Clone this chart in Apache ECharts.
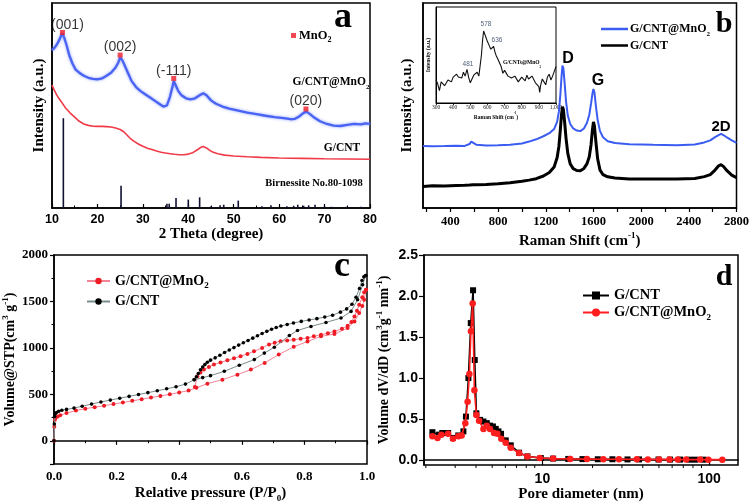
<!DOCTYPE html>
<html><head><meta charset="utf-8">
<script src="https://cdn.jsdelivr.net/npm/echarts@6/dist/echarts.min.js"></script>
<style>html,body{margin:0;padding:0;background:#fff}#c{width:752px;height:504px}</style>
</head><body><div id="c"></div><script>
// ---------- Panel a: XRD ----------
const aBlueX = [10,10.5,11,11.5,12,12.3,12.7,13.2,13.8,14.5,15.2,16,17,18,19,20,21,22,23,24,24.6,25,25.5,26,26.7,27.5,28.5,29.5,30.5,31.5,32.5,33.5,34.5,35.3,36,36.5,36.8,37.2,37.8,38.5,39.5,40.5,41.5,42.5,43.3,44,45,46,47.5,49,51,53,55,57,59,61,62.5,63.5,64.5,65.3,66,66.8,67.8,69,70.5,72,73.5,75,76.5,78,79,80];
const aBlueY = [77,78,79.5,81.5,84,85.2,83,79.5,74.5,70.5,67.5,66,64.5,63.5,63,62.8,63.2,64.5,66,68.5,71,73.5,72,69.5,66,62,59,57,55.5,54,52.5,51,49.5,50,54.5,59,62,60,57,55,53.5,53,53.5,55,56,55,52.5,51,49.5,48.5,47.5,46.5,45.8,45,44.3,43.8,43.3,43.5,44.8,46.3,47,45.8,44,42.3,41,40.2,40,40.5,41,40.8,41.3,41];
const aRedX = [10,10.5,11,11.5,12,13,14,15,16,17,18,19,20,21,22,23,24,25,25.8,26.5,27.2,28,29,30,31,32,33,34,35,36,37,38,39,40,41,42,42.7,43.3,44,44.8,45.5,46.5,48,50,53,56,60,65,70,75,80];
const aRedY = [60,57.5,55.3,53.5,52,48.8,46.3,44.3,42.3,41,40.3,39.9,39.8,39.8,39.7,39.5,39,38.3,37.2,35.6,34,32.6,31.2,30.1,29.2,28.5,27.8,27.2,26.8,26.5,26.2,26,26,26.3,27,28.4,29.5,30,29.3,28,27.2,26.5,25.8,25.4,25,24.7,24.4,24.2,24,23.9,23.8];
const aStickX = [12.5,25.2,35.3,35.8,37.3,40.0,42.5,45.0,47.0,47.8,51.0,56.2,58.2,61.7,63.2,64.1,65.4,66.5,67.9,70.0,71.5,74.8,78.0];
const aStickY = [43.8,10.9,2.1,2.1,4.9,4.1,5.2,0.8,1.3,1.6,3.6,0.8,1.3,0.8,1.1,1.6,1.1,1.3,1.6,0.8,0.6,0.6,0.6];
const aPeakX = [12.3,25.0,36.8,65.9];
const aPeakY = [85.6,74.6,63.2,48.3];
const aPeakLabels = ['(001)','(002)','(-111)','(020)'];

// ---------- Panel b: Raman ----------
const bX = [170,250,350,450,520,560,575,590,620,700,800,900,1000,1060,1120,1180,1230,1270,1295,1310,1322,1332,1340,1348,1358,1370,1385,1405,1430,1460,1490,1520,1545,1565,1580,1592,1600,1608,1620,1635,1655,1680,1720,1780,1900,2100,2300,2450,2530,2580,2620,2650,2670,2690,2720,2760,2800];
const bBlueY = [30.3,30.1,30.2,30.4,30.3,31.2,32.4,31.5,30.8,30.5,30.6,30.8,31.5,32.4,33.5,35,36.5,38.5,42,47,55,64,69.5,68,61,52,45,41,38.8,37.8,37.5,38.8,41.5,45.5,51,56,58,56.5,50,43,37.5,34.5,32.6,31.7,31.1,30.8,30.6,31,32,33,34.6,35.6,36.2,35.6,34.4,33,31.8];
const bBlackY = [10.5,10.8,10.7,11,11.1,11.2,11.2,11.3,11.4,11.5,11.8,12.3,13,13.6,14.3,15.6,17.3,20,24.5,30,38,45.5,49.4,48,42,34,26.5,21.5,19.2,18.3,18.2,19.3,21.5,25,31,38.5,42,40,32.5,24,18.5,16.3,15.2,14.6,14.2,14.1,14.1,14.4,15.3,16.3,18.5,20.6,21.1,20.3,18.2,16,14.8];
const bTickVals = [200,400,600,800,1000,1200,1400,1600,1800,2000,2200,2400,2600,2800];
const bLabelVals = [400,800,1200,1600,2000,2400,2800];
// inset
const iX = [300,310,320,330,340,350,360,370,380,390,400,410,420,430,440,450,460,470,481,490,500,510,520,530,540,550,558,565,572,578,584,590,600,610,620,628,636,644,652,660,670,680,690,700,710,720,730,740,750,760,770,780,790,800,810,820,830,840,850,860,870,880,890,900,905,910,920,930,940,950,960,970,980,990,1000];
const iY = [24,20,13,22,24,18,19,24,25,22,27,26,30,27,29,26,32,28,35,27,21,25,29,31,32,28,30,50,66,75,72,69,64,60,56,57,59,53,49,46,44,38,31,34,33,28,30,26,25,28,29,22,24,27,26,23,29,25,23,28,26,21,22,17,11,18,25,22,19,27,30,24,28,33,38];

// ---------- Panel c: isotherms ----------
const cBlackAdsP = [0,0.001,0.002,0.004,0.008,0.015,0.025,0.04,0.064,0.09,0.12,0.15,0.18,0.21,0.24,0.27,0.30,0.33,0.36,0.39,0.42,0.448,0.475,0.50,0.544,0.592,0.64,0.672,0.704,0.752,0.778,0.821,0.869,0.917,0.949,0.97,0.986,0.996];
const cBlackAdsV = [0,180,262,290,305,318,328,338,352,372,395,418,438,458,478,498,518,538,560,582,610,656,680,701,748,813,874,944,1007,1133,1188,1231,1274,1321,1393,1518,1680,1780];
const cBlackDesP = [0.996,0.99,0.984,0.976,0.965,0.952,0.935,0.915,0.89,0.865,0.84,0.815,0.79,0.765,0.745,0.725,0.71,0.695,0.68,0.665,0.65,0.635,0.62,0.605,0.59,0.575,0.56,0.545,0.53,0.515,0.50,0.49,0.482,0.475,0.468,0.461,0.455,0.448];
const cBlackDesV = [1780,1765,1725,1640,1545,1470,1420,1385,1352,1332,1315,1300,1285,1268,1252,1236,1220,1200,1178,1155,1130,1105,1080,1055,1030,1003,978,950,920,893,868,845,820,795,765,725,690,660];
const cRedAdsP = [0,0.001,0.003,0.006,0.012,0.02,0.04,0.07,0.1,0.13,0.16,0.19,0.22,0.25,0.28,0.31,0.34,0.37,0.40,0.43,0.455,0.49,0.538,0.586,0.629,0.673,0.718,0.766,0.81,0.853,0.896,0.938,0.96,0.975,0.985,0.991,0.997];
const cRedAdsV = [0,150,226,250,262,275,298,325,345,362,378,395,412,430,448,465,482,500,520,540,570,615,658,712,766,838,928,1011,1070,1124,1149,1213,1285,1375,1450,1518,1626];
const cRedDesP = [0.997,0.991,0.985,0.975,0.968,0.96,0.95,0.938,0.92,0.896,0.875,0.853,0.83,0.81,0.788,0.766,0.745,0.724,0.705,0.687,0.665,0.639,0.618,0.596,0.575,0.554,0.532,0.511,0.495,0.479,0.468,0.458,0.45];
const cRedDesV = [1626,1600,1545,1465,1400,1339,1280,1238,1205,1177,1158,1141,1125,1106,1098,1088,1080,1072,1055,1036,1000,964,935,910,888,867,843,820,795,766,735,694,580];

// ---------- Panel d: pore size distribution ----------
const dBlackD = [2.19,2.40,2.51,2.72,2.91,3.13,3.36,3.48,3.60,3.72,3.84,3.93,4.02,4.23,4.43,4.64,4.85,5.05,5.25,5.45,5.65,6.03,6.46,7.25,8.13,9.78,11.6,14.3,17.4,21.5,26.3,32.4,38.0,49.7,58.3,67,76.2,82.4,92.5];
const dBlackV = [0.34,0.31,0.33,0.33,0.27,0.30,0.35,0.53,1.00,1.67,2.07,1.22,0.57,0.49,0.47,0.45,0.42,0.41,0.38,0.35,0.32,0.24,0.18,0.09,0.045,0.025,0.018,0.014,0.012,0.01,0.01,0.008,0.008,0.007,0.006,0.006,0.005,0.005,0.005];
const dRedD = [2.19,2.35,2.48,2.72,2.91,3.13,3.28,3.45,3.56,3.65,3.73,3.82,3.91,4.02,4.17,4.43,4.64,4.85,5.13,5.37,5.67,6.03,6.46,7.25,8.13,9.64,11.6,14.7,18.5,23.2,28.8,36.8,42.9,50.1,57.8,64.9,72.8,88.3,99,120];
const dRedV = [0.29,0.27,0.31,0.32,0.26,0.29,0.30,0.45,0.71,1.05,1.57,1.91,0.85,0.55,0.48,0.38,0.42,0.38,0.33,0.32,0.26,0.21,0.15,0.085,0.045,0.025,0.018,0.014,0.012,0.01,0.01,0.009,0.008,0.008,0.007,0.007,0.006,0.006,0.005,0.005];
const dMinorTicks = [2,3,4,5,6,7,8,9,20,30,40,50,60,70,80,90];

// ---------- helpers ----------
const SERIF = '"Liberation Serif","Times New Roman",serif';
const SANS = '"Liberation Sans",Arial,sans-serif';
const zip = (xs, ys) => xs.map((x, i) => [x, ys[i]]);
function rt(size) {
  return {
    t: {fontFamily: SERIF, fontWeight: 'bold', fontSize: size, lineHeight: size + 5, color: '#000'},
    sup: {fontFamily: SERIF, fontWeight: 'bold', fontSize: Math.round(size * 0.62), verticalAlign: 'top', color: '#000'},
    sub: {fontFamily: SERIF, fontWeight: 'bold', fontSize: Math.round(size * 0.62), verticalAlign: 'bottom', color: '#000'}
  };
}
const AL = {show: true, lineStyle: {color: '#000', width: 1.5}};
const D_YMIN = -0.06;

const LEG = {
  mno2: '{t|MnO}{sub|2}',
  b1: '{t|G/CNT@MnO}{sub|2}', b2: '{t|G/CNT}',
  c1: '{t|G/CNT@MnO}{sub|2}', c2: '{t|G/CNT}',
  d1: '{t|G/CNT}', d2: '{t|G/CNT@MnO}{sub|2}'
};
const legFmt = n => LEG[n];

function gtext(x, y, text, size, opt) {
  opt = opt || {};
  return {
    type: 'text', x: x, y: y, silent: true, z: 100,
    style: Object.assign({
      text: text, fill: opt.color || '#000',
      font: (opt.weight || 'bold') + ' ' + size + 'px ' + (opt.family || SERIF),
      align: opt.align || 'center', verticalAlign: 'middle',
      textAlign: opt.align || 'center', textVerticalAlign: 'middle'
    }, opt.rich ? {rich: opt.rich} : {})
  };
}

const peakData = zip(aPeakX, aPeakY).map((v, i) => (i === 0 ? {value: v, label: {offset: [5, 2]}} : {value: v, label: {offset: [0, 2]}}));

const chart = echarts.init(document.getElementById('c'), null, {renderer: 'canvas'});
const option = {
  animation: false,
  backgroundColor: '#fff',
  grid: [
    {left: 52, top: 3, width: 318, height: 205, show: true, borderColor: '#000', borderWidth: 1.5},
    {left: 423, top: 3, width: 314, height: 205, show: true, borderColor: '#000', borderWidth: 1.5},
    {left: 436, top: 7, width: 120, height: 96, show: true, borderColor: '#000', borderWidth: 1},
    {left: 53, top: 255, width: 314, height: 210, show: true, borderColor: '#000', borderWidth: 1.5},
    {left: 424, top: 255, width: 314, height: 210, show: true, borderColor: '#000', borderWidth: 1.5}
  ],
  xAxis: [
    {gridIndex: 0, type: 'value', min: 10, max: 80, interval: 10, axisLine: AL,
     axisTick: {inside: true, length: 4, lineStyle: {color: '#000', width: 1.2}},
     minorTick: {show: true, splitNumber: 2, length: 2.5, lineStyle: {color: '#000'}},
     splitLine: {show: false},
     axisLabel: {fontFamily: SANS, fontWeight: 'bold', fontSize: 12.5, color: '#000', margin: 5},
     name: '2 Theta (degree)', nameLocation: 'middle', nameGap: 19,
     nameTextStyle: {fontFamily: SERIF, fontWeight: 'bold', fontSize: 15, color: '#000'}},
    {gridIndex: 1, type: 'value', min: 170, max: 2800, axisLine: AL,
     axisTick: {length: 4, customValues: bTickVals, lineStyle: {color: '#000', width: 1.2}},
     splitLine: {show: false},
     axisLabel: {customValues: bLabelVals, fontFamily: SERIF, fontWeight: 'bold', fontSize: 12.5, color: '#000', margin: 7,
                 formatter: v => String(Math.round(v))},
     name: '{t|Raman Shift (cm}{sup|-1}{t|)}', nameLocation: 'middle', nameGap: 23,
     nameTextStyle: {rich: rt(15)}},
    {gridIndex: 2, type: 'value', min: 300, max: 1000, interval: 100,
     axisLine: {show: true, lineStyle: {color: '#000', width: 1}},
     axisTick: {length: 2, lineStyle: {color: '#000', width: 0.8}}, splitLine: {show: false},
     axisLabel: {fontFamily: SERIF, fontSize: 5.5, color: '#222', margin: 2},
     name: '{t|Raman Shift (cm}{sup|-1}{t|)}', nameLocation: 'middle', nameGap: 7,
     nameTextStyle: {rich: rt(5.5)}},
    {gridIndex: 3, type: 'value', min: 0, max: 1, interval: 0.2, axisLine: AL,
     axisTick: {length: 4, lineStyle: {color: '#000', width: 1.2}},
     minorTick: {show: true, splitNumber: 2, length: 2.5, lineStyle: {color: '#000'}},
     splitLine: {show: false},
     axisLabel: {fontFamily: SERIF, fontWeight: 'bold', fontSize: 13, color: '#000', margin: 6,
                 formatter: v => v.toFixed(1)},
     name: '{t|Relative pressure (P/P}{sub|0}{t|)}', nameLocation: 'middle', nameGap: 19,
     nameTextStyle: {rich: rt(15)}},
    {gridIndex: 4, type: 'log', logBase: 10, min: 1.95, max: 149, axisLine: AL,
     axisTick: {length: 5, lineStyle: {color: '#000', width: 1.2}},
     splitLine: {show: false},
     axisLabel: {fontFamily: SANS, fontWeight: 'bold', fontSize: 14, color: '#000', margin: 7,
                 showMinLabel: false, showMaxLabel: false,
                 formatter: v => { const l = Math.log10(v); return Math.abs(l - Math.round(l)) < 1e-6 ? String(Math.round(v)) : ''; }},
     name: 'Pore diameter (nm)', nameLocation: 'middle', nameGap: 22,
     nameTextStyle: {fontFamily: SERIF, fontWeight: 'bold', fontSize: 15, color: '#000'}}
  ],
  yAxis: [
    {gridIndex: 0, type: 'value', min: 0, max: 100, axisLine: AL, axisTick: {show: false},
     axisLabel: {show: false}, splitLine: {show: false},
     name: 'Intensity (a.u.)', nameLocation: 'middle', nameRotate: 90, nameGap: 5,
     nameTextStyle: {fontFamily: SERIF, fontWeight: 'bold', fontSize: 15, color: '#000'}},
    {gridIndex: 1, type: 'value', min: 0, max: 100, axisLine: AL, axisTick: {show: false},
     axisLabel: {show: false}, splitLine: {show: false},
     name: 'Intensity (a.u.)', nameLocation: 'middle', nameRotate: 90, nameGap: 8,
     nameTextStyle: {fontFamily: SERIF, fontWeight: 'bold', fontSize: 15, color: '#000'}},
    {gridIndex: 2, type: 'value', min: 0, max: 100,
     axisLine: {show: true, lineStyle: {color: '#000', width: 1}}, axisTick: {show: false},
     axisLabel: {show: false}, splitLine: {show: false},
     name: 'Intensity (a.u.)', nameLocation: 'middle', nameRotate: 90, nameGap: 4,
     nameTextStyle: {fontFamily: SERIF, fontWeight: 'bold', fontSize: 5.5, color: '#000'}},
    {gridIndex: 3, type: 'value', min: -250, max: 2000, axisLine: AL,
     axisTick: {length: 4, lineStyle: {color: '#000', width: 1.2}},
     minorTick: {show: true, splitNumber: 2, length: 2.5, lineStyle: {color: '#000'}},
     splitLine: {show: false},
     axisLabel: {fontFamily: SERIF, fontWeight: 'bold', fontSize: 13, color: '#000', margin: 6, showMinLabel: false,
                 formatter: v => (Math.abs(v % 500) < 1e-6 ? String(v) : '')},
     name: '{t|Volume@STP(cm}{sup|3}{t| g}{sup|-1}{t|)}', nameLocation: 'middle', nameRotate: 90, nameGap: 34,
     nameTextStyle: {rich: rt(14)}},
    {gridIndex: 4, type: 'value', min: D_YMIN, max: 2.5, axisLine: AL,
     axisTick: {length: 5, lineStyle: {color: '#000', width: 1.2}},
     splitLine: {show: false},
     axisLabel: {fontFamily: SANS, fontWeight: 'bold', fontSize: 14, color: '#000', margin: 6, showMinLabel: false,
                 formatter: v => (Math.abs(v * 2 - Math.round(v * 2)) < 1e-6 ? v.toFixed(1) : '')},
     name: '{t|Volume dV/dD (cm}{sup|3}{t|g}{sup|-1}{t| nm}{sup|-1}{t|)}', nameLocation: 'middle', nameRotate: 90, nameGap: 30,
     nameTextStyle: {rich: rt(14)}}
  ],
  legend: [
    {data: ['mno2'], left: 286, top: 24, icon: 'rect', itemWidth: 5, itemHeight: 5, itemGap: 4,
     formatter: legFmt, textStyle: {rich: rt(12.5), padding: [0, 0, 0, -2]}},
    {data: [{name: 'b1', icon: 'rect'}, {name: 'b2', icon: 'rect'}], orient: 'vertical', left: 596, top: 18,
     itemWidth: 27, itemHeight: 2.5, itemGap: 2,
     formatter: legFmt, textStyle: {rich: rt(12), padding: [0, 0, 0, -3]}},
    {data: ['c1', 'c2'], orient: 'vertical', left: 81, top: 269, itemWidth: 23, itemHeight: 8, itemGap: 4,
     formatter: legFmt, textStyle: {rich: rt(14)}},
    {data: ['d1', 'd2'], orient: 'vertical', left: 577, top: 283, itemWidth: 26, itemHeight: 10, itemGap: 2,
     formatter: legFmt, textStyle: {rich: rt(14.5)}}
  ],
  series: [
    // panel a
    {name: 'aBlue', type: 'line', xAxisIndex: 0, yAxisIndex: 0, data: zip(aBlueX, aBlueY), showSymbol: false,
     lineStyle: {color: '#4a63f2', width: 2.3, shadowColor: 'rgba(110,135,255,0.8)', shadowBlur: 3}, z: 3},
    {name: 'aRed', type: 'line', xAxisIndex: 0, yAxisIndex: 0, data: zip(aRedX, aRedY), showSymbol: false,
     lineStyle: {color: '#f03a48', width: 1.6}, z: 3},
    {name: 'aStick', type: 'bar', xAxisIndex: 0, yAxisIndex: 0, data: zip(aStickX, aStickY), barWidth: 1.6,
     itemStyle: {color: '#101030'}, z: 2},
    {name: 'mno2', type: 'scatter', xAxisIndex: 0, yAxisIndex: 0, data: peakData, symbol: 'rect', symbolSize: 5,
     itemStyle: {color: '#ee1c25'}, z: 5,
     label: {show: true, position: 'top', distance: 0, fontFamily: SANS, fontSize: 14, color: '#000',
             formatter: p => aPeakLabels[p.dataIndex]}},
    // panel b
    {name: 'b1', type: 'line', xAxisIndex: 1, yAxisIndex: 1, data: zip(bX, bBlueY), showSymbol: false, symbol: 'none',
     lineStyle: {color: '#3b5cf0', width: 2}, itemStyle: {color: '#3b5cf0'}},
    {name: 'b2', type: 'line', xAxisIndex: 1, yAxisIndex: 1, data: zip(bX, bBlackY), showSymbol: false, symbol: 'none',
     lineStyle: {color: '#000', width: 3}, itemStyle: {color: '#000'}},
    {name: 'inset', type: 'line', xAxisIndex: 2, yAxisIndex: 2, data: zip(iX, iY), showSymbol: false, symbol: 'none',
     lineStyle: {color: '#111', width: 1.1}},
    // panel c
    {name: 'c1', type: 'line', xAxisIndex: 3, yAxisIndex: 3,
     data: zip(cRedAdsP, cRedAdsV).concat(zip(cRedDesP, cRedDesV)),
     symbol: 'circle', symbolSize: 4, showSymbol: true,
     lineStyle: {color: '#f28496', width: 1}, itemStyle: {color: '#ee1c25'}, z: 3},
    {name: 'c2', type: 'line', xAxisIndex: 3, yAxisIndex: 3,
     data: zip(cBlackAdsP, cBlackAdsV).concat(zip(cBlackDesP, cBlackDesV)),
     symbol: 'circle', symbolSize: 3.6, showSymbol: true,
     lineStyle: {color: '#7a8c8c', width: 1}, itemStyle: {color: '#000'}, z: 4},
    // panel d
    {name: 'd1', type: 'line', xAxisIndex: 4, yAxisIndex: 4, data: zip(dBlackD, dBlackV),
     symbol: 'rect', symbolSize: 6, showSymbol: true,
     lineStyle: {color: '#000', width: 1.6}, itemStyle: {color: '#000'}, z: 3},
    {name: 'd2', type: 'line', xAxisIndex: 4, yAxisIndex: 4, data: zip(dRedD, dRedV),
     symbol: 'circle', symbolSize: 6.5, showSymbol: true,
     lineStyle: {color: '#ff1e1e', width: 1.6}, itemStyle: {color: '#ff1e1e'}, z: 4},
    {name: 'dMinor', type: 'custom', xAxisIndex: 4, yAxisIndex: 4, silent: true, clip: false,
     data: dMinorTicks.map(v => [v, D_YMIN]),
     encode: {x: 0, y: 1},
     renderItem: (params, api) => {
       const pt = api.coord([api.value(0), api.value(1)]);
       return {type: 'line', shape: {x1: pt[0], y1: pt[1], x2: pt[0], y2: pt[1] + 3},
               style: {stroke: '#000', lineWidth: 1}};
     }}
  ],
  graphic: [
    gtext(343, 18, 'a', 36),
    gtext(724, 24, 'b', 30),
    gtext(342, 267, 'c', 36),
    gtext(724, 277, 'd', 30),
    gtext(331, 82, '{t|G/CNT@MnO}{sub|2}', 11.5, {rich: rt(11.5)}),
    gtext(342, 148, 'G/CNT', 11.5),
    gtext(314, 183, 'Birnessite No.80-1098', 10.5),
    gtext(568, 59, 'D', 16, {family: SANS}),
    gtext(598, 81, 'G', 16, {family: SANS}),
    gtext(721, 127, '2D', 15, {family: SANS}),
    gtext(486, 24, '578', 6.5, {family: SANS, weight: 'normal', color: '#51607a'}),
    gtext(497, 40, '636', 6.5, {family: SANS, weight: 'normal', color: '#51607a'}),
    gtext(468, 64, '481', 6.5, {family: SANS, weight: 'normal', color: '#51607a'}),
    gtext(522, 63, '{t|G/CNTs@MnO}{sub|2}', 5.5, {rich: rt(5.5)})
  ]
};
chart.setOption(option);
</script></body></html>
